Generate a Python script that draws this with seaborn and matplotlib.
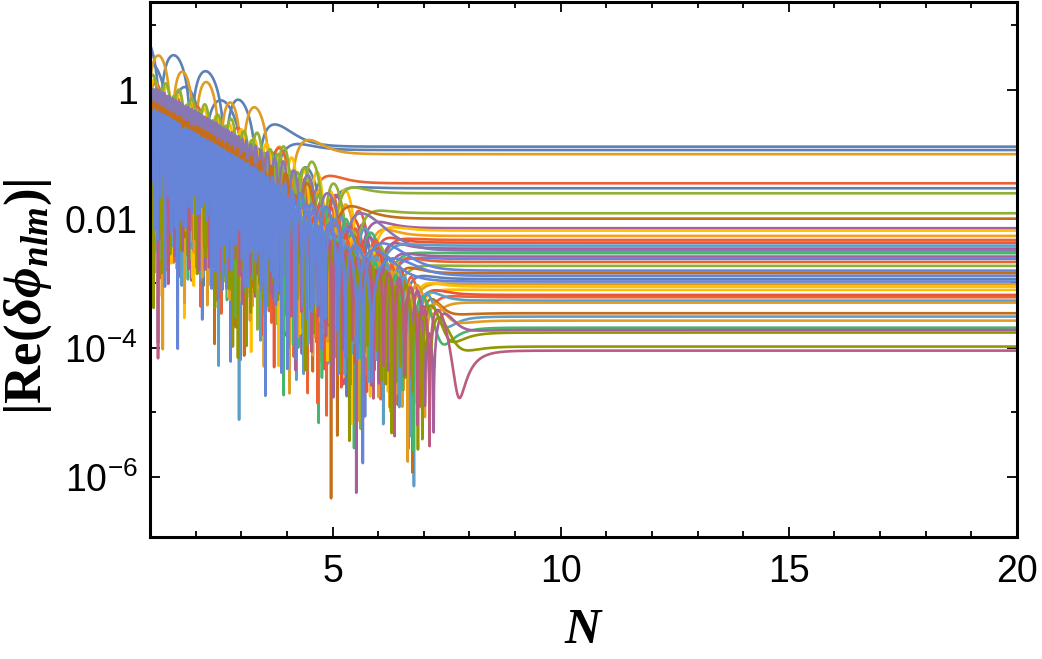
import numpy as np
import pandas as pd
import matplotlib
matplotlib.use("Agg")
import matplotlib.pyplot as plt
import seaborn as sns
from matplotlib.ticker import FixedLocator, FixedFormatter, NullFormatter

# ---------------- data ----------------
# final (frozen) level of each mode, read off the right-hand side
plateau = [0.132, 0.117, 0.101, 0.0357, 0.0299, 0.0250, 0.01225, 0.0101,
           0.00718, 0.00659, 0.00545, 0.00472, 0.00429, 0.00386, 0.00347,
           0.00323, 0.00294, 0.00261, 0.00240, 0.00215, 0.00187, 0.00158,
           0.00144, 0.00131, 0.00117, 0.00107, 0.000972, 0.000892, 0.000793,
           0.000663, 0.000611, 0.000541, 0.000504, 0.000345, 0.000306,
           0.000265, 0.000206, 0.000190, 0.000173, 0.000105, 0.0000908]
colors = ["#5E81B5", "#5E81B5", "#E19C24", "#EB6235", "#5E81B5", "#8FB032",
          "#8FB032", "#C56E1A", "#A5609D", "#FFBF00", "#F89F13", "#EB6235",
          "#E95536", "#5D9EC7", "#A5609D", "#8778B3", "#47B66D", "#A5609D",
          "#6685D9", "#EB6235", "#8FB032", "#6685D9", "#C56E1A", "#6685D9",
          "#5E81B5", "#6685D9", "#E19C24", "#FFBF00", "#FFBF00", "#E95536",
          "#EB6235", "#5D9EC7", "#E19C24", "#C56E1A", "#5D9EC7", "#E19C24",
          "#47B66D", "#A5609D", "#929600", "#929600", "#BC5B80"]
# oscillation amplitude at N = 1
amp = [6.0, 2.6, 4.0, 1.4, 1.0, 1.8, 1.3, 0.7, 0.9, 1.6, 0.8, 0.9, 0.5, 0.4,
       0.5, 1.2, 0.45, 0.35, 0.3, 0.4, 0.35, 0.55, 0.3, 0.4, 0.3, 0.3, 0.3,
       0.25, 0.3, 0.3, 0.25, 0.25, 0.2, 0.2, 0.25, 0.2, 0.22, 0.2, 0.2, 0.18,
       0.2]
# e-fold number where each mode stops oscillating
n_freeze = [3.7, 4.1, 4.5, 4.8, 5.0, 5.1, 5.5, 5.6, 5.7, 5.7, 5.8, 5.9, 5.9,
            6.0, 6.0, 6.0, 6.1, 6.1, 6.2, 6.2, 6.3, 6.5, 6.3, 6.6, 6.4, 6.5,
            6.5, 6.6, 6.6, 6.7, 6.8, 6.8, 6.9, 7.0, 7.0, 7.1, 7.0, 7.2, 7.1,
            7.2, 7.4]
# oscillation rates (steady part and early fast part)
omega_lin = [4.5, 4.0, 6.0, 7, 9, 11, 11, 0, 10, 11.5, 12, 13, 14, 15, 16, 0,
             14, 17, 15, 18, 13, 0, 16, 0, 19, 0, 17, 20, 15, 18, 21, 16, 19,
             17, 20, 18, 15, 19, 17, 16, 14]
omega_exp = [0, 0, 0, 0, 0, 0, 0, 330, 0, 0, 0, 0, 0, 0, 0, 280, 0, 0, 0, 0,
             0, 400, 0, 450, 0, 500, 0, 0, 0, 0, 0, 0, 0, 0, 0, 0, 0, 0, 0, 0,
             0]
phase = [0.2, -0.3, 0.9, 0.5, -0.6, 0.4, -0.3, 0.3, 0.4, -0.5, 0.6, -0.7, 0.8,
         -0.2, 1.0, 0.2, -0.9, 0.5, -0.4, 0.7, -1.0, 0.1, 0.9, -0.3, 0.3, 1.1,
         -0.8, 0.6, -1.1, 0.4, -0.5, 1.2, -1.3, 2.5, -2.3, 2.8, -2.6, 2.2,
         -2.9, 2.6, -2.4]
# layering: arching modes, purple band, brown band, the low modes,
# cornflower fill last
draw_order = [0, 1, 2, 3, 4, 8, 10, 11, 12, 14, 9, 5, 6, 15, 7, 13, 16, 17,
              18, 19, 20, 22, 24, 26, 27, 28, 29, 30, 31, 32, 33, 34, 35, 36,
              37, 38, 39, 40, 25, 23, 21]

x_ticks = [5, 10, 15, 20]
x_minor = [v for v in range(1, 21) if v not in x_ticks]
y_ticks = [1e-6, 1e-4, 1e-2, 1]
y_tick_labels = [r"$\mathsf{10^{-6}}$", r"$\mathsf{10^{-4}}$", "0.01", "1"]
y_minor = [1e-7, 1e-5, 1e-3, 1e-1, 10]

# ---------------- build curves ----------------
decay = 0.95      # envelope e-fold rate while oscillating
late_decay = 2.5  # extra decay after freezing
width = 0.35

N = np.concatenate([np.arange(1.0, 9.0, 0.008), np.linspace(9.0, 20.0, 111)])

def softplus(z):
    return width * np.logaddexp(0, z / width)

rows = []
for i in range(len(plateau)):
    sig = 1.0 / (1.0 + np.exp(-(n_freeze[i] - N) / width))
    rate = (omega_lin[i] + omega_exp[i] * np.exp(-(N - 1))) * sig
    seg = 0.5 * (rate[1:] + rate[:-1]) * np.diff(N)
    remaining = np.concatenate([np.cumsum(seg[::-1])[::-1], [0.0]])
    ph = phase[i] - remaining
    env = amp[i] * np.exp(-decay * (N - 1) - late_decay * softplus(N - n_freeze[i]))
    val = np.abs(plateau[i] + env * np.cos(ph))
    rows.append(pd.DataFrame({"N": N, "value": val, "mode": i}))
df = pd.concat(rows, ignore_index=True)

# ---------------- plot ----------------
sns.set_theme(style="white")
plt.rcParams["mathtext.fontset"] = "custom"
plt.rcParams["mathtext.sf"] = "Liberation Sans"
plt.rcParams["mathtext.rm"] = "Liberation Serif"
plt.rcParams["mathtext.bf"] = "Liberation Serif:bold"
plt.rcParams["mathtext.it"] = "Liberation Serif:italic"
plt.rcParams["mathtext.bfit"] = "Liberation Serif:italic:bold"
plt.rcParams["font.family"] = ["Liberation Sans", "DejaVu Sans"]

fig = plt.figure(figsize=(10.42, 6.59), dpi=100)
ax = fig.add_axes([150 / 1042, 1 - 537 / 659, 867 / 1042, 535 / 659])

palette = {i: colors[i] for i in range(len(colors))}
sns.lineplot(data=df, x="N", y="value", hue="mode", hue_order=draw_order,
             palette=palette, estimator=None, sort=False, legend=False,
             linewidth=1.9, ax=ax)

ax.set_yscale("log")
ax.set_xlim(1, 20)
ax.set_ylim(1.17e-7, 23.1)

ax.xaxis.set_major_locator(FixedLocator(x_ticks))
ax.xaxis.set_major_formatter(FixedFormatter([str(v) for v in x_ticks]))
ax.xaxis.set_minor_locator(FixedLocator(x_minor))
ax.xaxis.set_minor_formatter(NullFormatter())
ax.yaxis.set_major_locator(FixedLocator(y_ticks))
ax.yaxis.set_major_formatter(FixedFormatter(y_tick_labels))
ax.yaxis.set_minor_locator(FixedLocator(y_minor))
ax.yaxis.set_minor_formatter(NullFormatter())

ax.tick_params(which="both", direction="in", top=True, right=True,
               bottom=True, left=True, color="black", width=1.3,
               labelsize=27, labelcolor="black")
ax.tick_params(which="major", length=7)
ax.tick_params(which="minor", length=4)
ax.tick_params(axis="x", pad=12)
ax.tick_params(axis="y", pad=9)
for sp in ax.spines.values():
    sp.set_visible(True)
    sp.set_color("black")
    sp.set_linewidth(2.2)
ax.set_xlabel("")
ax.set_ylabel("")

fig.text(583 / 1042, 1 - 643 / 659, "N", family="Liberation Serif",
         weight="bold", style="italic", fontsize=36, ha="center",
         va="baseline", color="black")
fig.text(28 / 1042, 1 - 297 / 659,
         r"$\mathbf{|Re(}\mathbfit{\delta\phi}_{\mathbfit{nlm}}\mathbf{)|}$",
         rotation=90, fontsize=38, ha="center", va="center", color="black")

fig.savefig("out.png", dpi=100)
